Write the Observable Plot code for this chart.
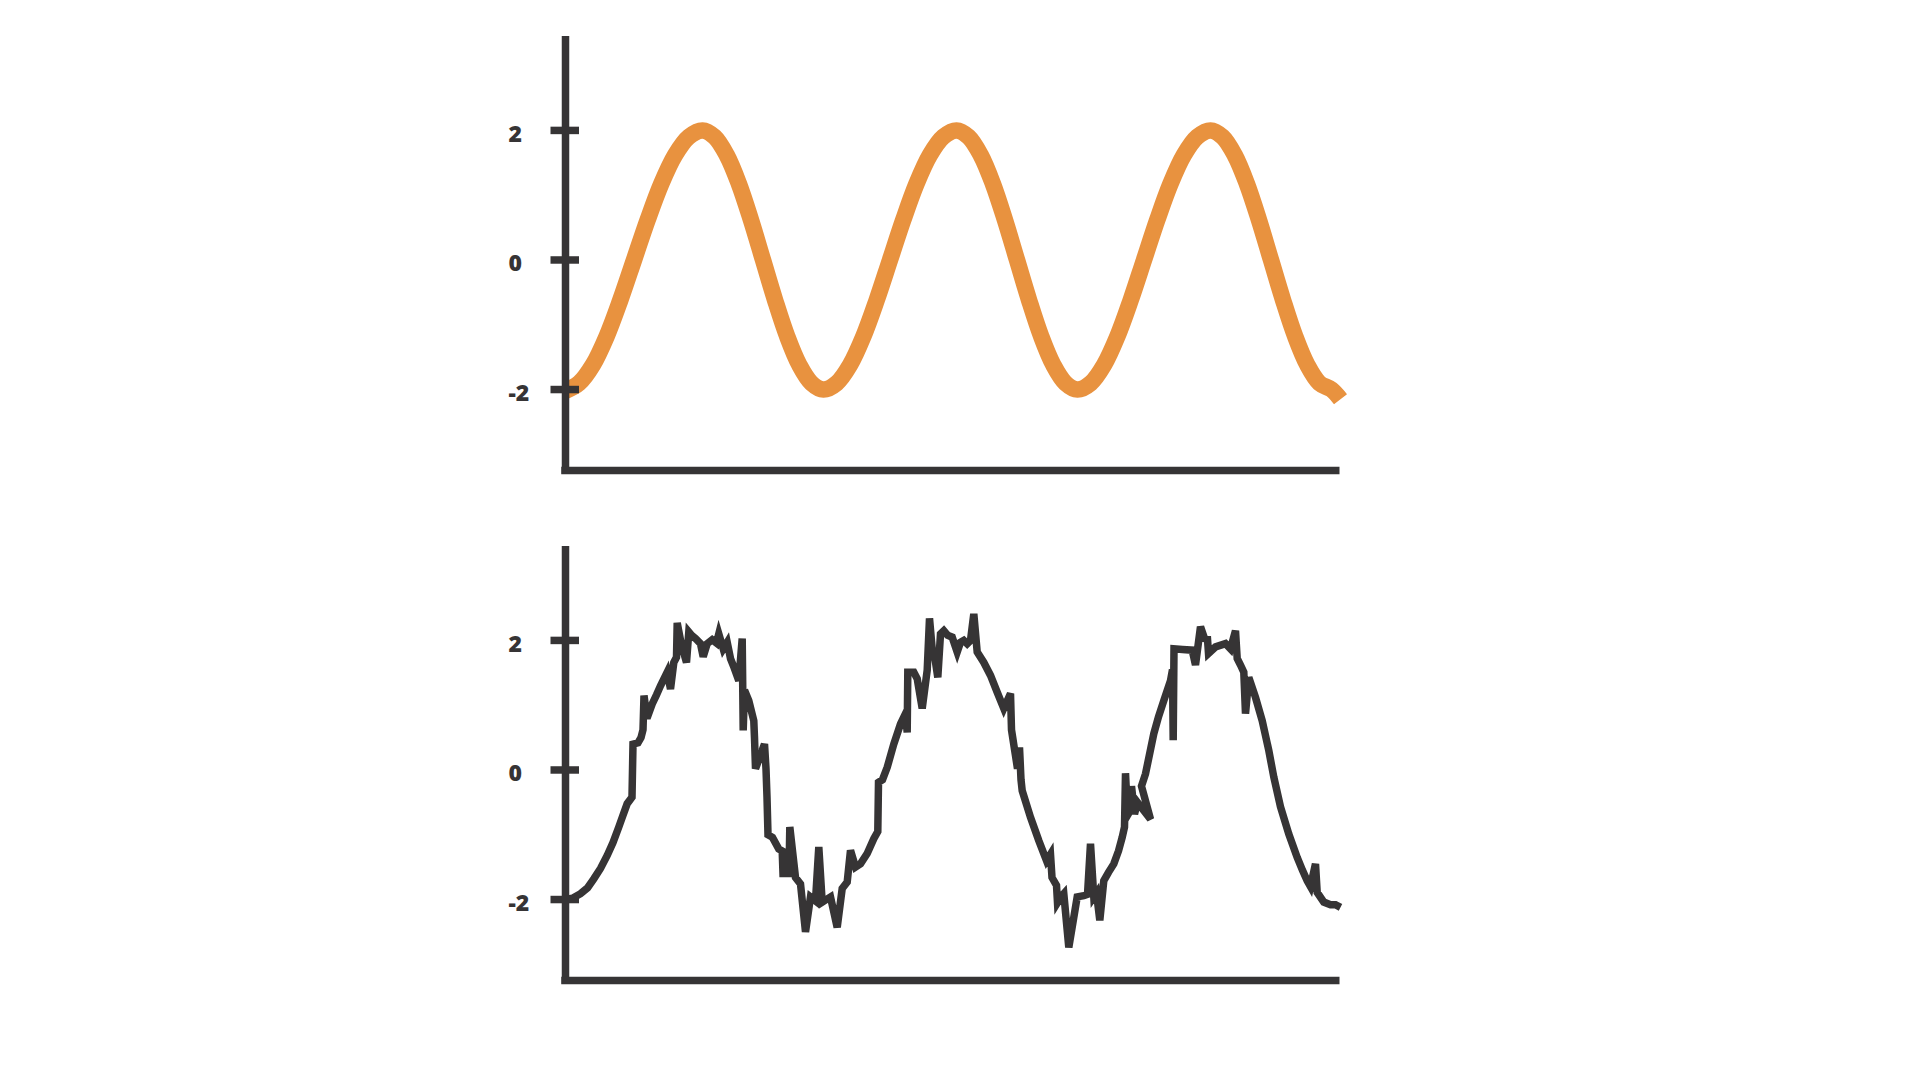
<!DOCTYPE html>
<html><head><meta charset="utf-8">
<script src="https://cdn.jsdelivr.net/npm/d3@7"></script>
<script src="https://cdn.jsdelivr.net/npm/@observablehq/plot@0.6"></script>
<style>
html,body{margin:0;padding:0;background:#fff;}
#wrap{width:1920px;height:1080px;position:relative;background:#fff;}
#wrap svg{display:block;}
</style></head><body><div id="wrap"></div>
<script>
// y tick values shown on both panels
const yTicks = [-2, 0, 2];

// clean signal (top panel)
const cleanT = [0, 2.74, 5.48, 8.22, 10.96, 13.7, 16.44, 19.18, 21.92, 24.66, 27.4, 29.82, 32.24, 34.66, 37.08, 39.5, 41.92, 44.34, 46.76, 49.18, 51.6, 54.26, 56.92, 59.58, 62.24, 64.9, 67.56, 70.22, 72.88, 75.54, 78.2, 80.62, 83.04, 85.46, 87.88, 90.3, 92.72, 95.14, 97.56, 99.98, 102.4, 105.06, 107.72, 110.38, 113.04, 115.7, 118.36, 121.02, 123.68, 126.34, 129, 131.42, 133.84, 136.26, 138.68, 141.1, 143.52, 145.94, 148.36, 150.78, 153.2, 155];
const cleanV = [-2.02, -1.9, -1.62, -1.18, -0.62, 0, 0.62, 1.18, 1.62, 1.9, 2, 1.9, 1.62, 1.18, 0.62, 0, -0.62, -1.18, -1.62, -1.9, -2, -1.9, -1.62, -1.18, -0.62, 0, 0.62, 1.18, 1.62, 1.9, 2, 1.9, 1.62, 1.18, 0.62, 0, -0.62, -1.18, -1.62, -1.9, -2, -1.9, -1.62, -1.18, -0.62, 0, 0.62, 1.18, 1.62, 1.9, 2, 1.9, 1.62, 1.18, 0.62, 0, -0.62, -1.18, -1.62, -1.9, -2, -2.15];

// noisy signal (bottom panel)
const noisyT = [0, 1.4, 3, 4.4, 5.66, 7, 8.34, 9.5, 10.66, 11.5,
  12.34, 13.3, 13.5, 14.5, 15.1, 15.5, 15.7, 16.3, 17.34, 18.2,
  19, 20.34, 21, 21.66, 22.2, 22.34, 23.14, 24.2, 24.66, 25.2,
  26, 27, 27.54, 28.34, 29.34, 30.2, 30.66, 31.54, 32.34, 33,
  33.66, 34.66, 35.34, 35.54, 35.8, 36.66, 37.66, 37.8, 38, 39.8,
  40.1, 40.3, 40.5, 41.4, 42.66, 43.34, 43.5, 44.7, 44.86, 46,
  47, 48, 49, 50, 50.66, 51.34, 53, 54.34, 55.34, 56.34,
  57, 58, 59, 60.34, 61.66, 62.46, 62.6, 63.4, 64.34, 65.66,
  67, 68, 68.34, 68.46, 69.66, 70.34, 71.34, 72.34, 72.8, 73.34,
  73.8, 74.46, 75, 75.66, 76.4, 77.34, 78.34, 79, 79.66, 80.34,
  81, 81.66, 82.34, 83.66, 85, 86.34, 87.66, 89, 89.2, 90,
  90.4, 90.8, 91.1, 91.34, 93, 94.66, 96.2, 97, 97.3, 98.2,
  98.4, 99.2, 99.66, 100.66, 102.34, 103.66, 104.4, 105, 105.66, 106.2,
  106.86, 107.66, 108.6, 109.66, 110.6, 111.34, 111.8, 112, 112.4, 113,
  113.2, 113.8, 114.4, 117, 115.2, 116, 117.66, 118.6, 119.66, 121,
  121.4, 121.54, 121.7, 123.4, 125.34, 126, 127, 127.8, 128.4, 128.6,
  130, 132, 133, 134, 134.34, 135, 135.66, 136, 136.66, 138,
  139.34, 140.66, 141.66, 143, 144.66, 146.34, 147.4, 148.34, 149, 150,
  150.34, 151.66, 153, 154, 155];
const noisyV = [-2.00, -1.98, -1.91, -1.82, -1.68, -1.52, -1.32, -1.12, -0.88, -0.70,
  -0.52, -0.42, 0.40, 0.42, 0.50, 0.62, 1.15, 0.80, 1.02, 1.16,
  1.30, 1.51, 1.25, 1.66, 1.74, 2.27, 1.95, 1.66, 2.13, 2.08,
  2.03, 1.95, 1.75, 1.95, 2.01, 1.96, 2.10, 1.87, 1.97, 1.72,
  1.59, 1.38, 2.03, 0.61, 1.23, 1.07, 0.76, 0.50, 0.02, 0.40,
  0.02, -0.42, -1.00, -1.04, -1.22, -1.25, -1.60, -1.60, -0.88, -1.66,
  -1.76, -2.50, -1.96, -2.02, -1.19, -2.04, -1.96, -2.43, -1.83, -1.73,
  -1.24, -1.50, -1.45, -1.29, -1.06, -0.95, -0.19, -0.15, 0.04, 0.40,
  0.71, 0.87, 0.58, 1.51, 1.51, 1.41, 0.95, 1.54, 2.34, 1.87,
  1.77, 1.43, 2.10, 2.15, 2.08, 2.05, 1.82, 1.97, 2.00, 1.95,
  2.00, 2.41, 1.82, 1.66, 1.46, 1.20, 0.95, 1.18, 0.62, 0.22,
  0.02, 0.35, -0.15, -0.32, -0.73, -1.09, -1.40, -1.30, -1.66, -1.78,
  -2.05, -1.95, -1.91, -2.74, -1.96, -1.94, -1.92, -1.14, -1.96, -1.90,
  -2.32, -1.71, -1.58, -1.45, -1.25, -1.04, -0.88, -0.05, -0.70, -0.62,
  -0.25, -0.68, -0.50, -0.76, -0.25, -0.06, 0.56, 0.82, 1.07, 1.38,
  1.55, 0.46, 1.87, 1.86, 1.85, 1.62, 2.21, 2.03, 2.02, 1.80,
  1.90, 1.95, 1.87, 2.15, 1.72, 1.62, 1.51, 0.87, 1.43, 1.12,
  0.76, 0.30, -0.11, -0.57, -0.99, -1.35, -1.55, -1.71, -1.80, -1.45,
  -1.89, -2.04, -2.08, -2.08, -2.12];

const INK = "#363435";
const ORANGE = "#E8923F";
const X_DOMAIN = [0, 155];
const Y_DOMAIN = [-3.25, 3.45];

function panel(ts, vs, color, width, curve) {
  const n = Math.min(ts.length, vs.length);
  const data = [];
  for (let i = 0; i < n; i++) data.push({t: ts[i], v: vs[i]});
  return Plot.plot({
    width: 1920, height: 510,
    marginLeft: 565, marginRight: 580, marginTop: 36, marginBottom: 40,
    x: {domain: X_DOMAIN, axis: null},
    y: {domain: Y_DOMAIN, axis: null},
    style: {background: "transparent", overflow: "visible", fontFamily: "'Open Sans', sans-serif"},
    marks: [
      Plot.line(data, {x: "t", y: "v", stroke: color, strokeWidth: width, curve,
        strokeLinejoin: "miter", strokeLinecap: "butt", strokeMiterlimit: 4}),
      // y axis line
      Plot.ruleX([X_DOMAIN[0]], {y1: Y_DOMAIN[1], y2: Y_DOMAIN[0] - 0.058, stroke: INK, strokeWidth: 7.5, strokeLinecap: "butt"}),
      // x axis line
      Plot.ruleY([Y_DOMAIN[0]], {x1: X_DOMAIN[0] - 0.75, x2: X_DOMAIN[1] - 0.1, stroke: INK, strokeWidth: 7.5, strokeLinecap: "butt"}),
      // ticks crossing the axis
      Plot.ruleY(yTicks, {y: d => d, x1: -2.9, x2: 2.8, stroke: INK, strokeWidth: 7.5, strokeLinecap: "butt"}),
      // tick labels
      Plot.text(yTicks, {y: d => d, text: d => String(d), frameAnchor: "left", textAnchor: "start",
        dx: -57, dy: 4, fontSize: 23, fontWeight: 800, fill: INK, fontFamily: "'Open Sans', sans-serif"})
    ]
  });
}

const wrap = document.getElementById("wrap");
wrap.appendChild(panel(cleanT, cleanV, ORANGE, 16.5, "catmull-rom"));
wrap.appendChild(panel(noisyT, noisyV, INK, 7.5, "linear"));
</script>
</body></html>
